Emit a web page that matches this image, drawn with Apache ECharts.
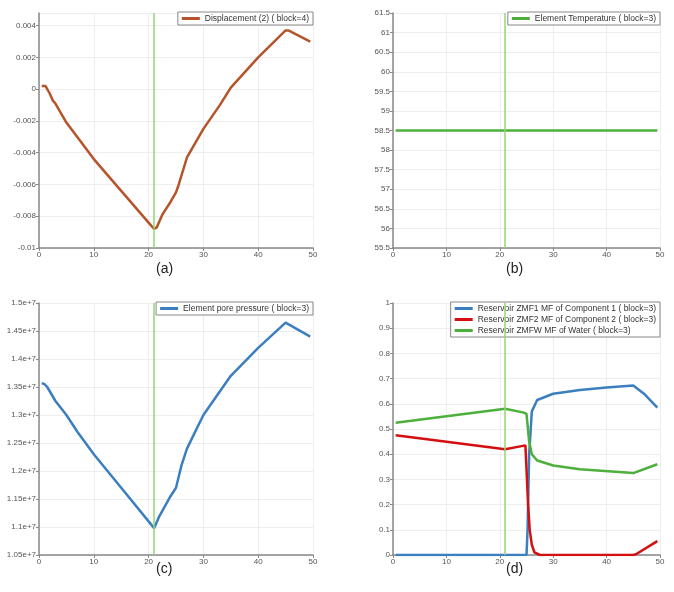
<!DOCTYPE html>
<html><head><meta charset="utf-8">
<script src="https://cdn.jsdelivr.net/npm/echarts@6/dist/echarts.min.js"></script>
<style>html,body{margin:0;padding:0;background:#fff}#c{width:674px;height:592px}</style>
</head><body><div id="c"></div>
<script>
const dispX=[0.5,1.2,1.5,2,2.5,3,5,10,15,20,21,21.5,22.5,24,25,25.5,27,30,33,35,40,45,45.5,49.5];
const dispY=[0.0002,0.0002,0.0001,-0.0003,-0.0007,-0.0009,-0.0021,-0.0044,-0.0064,-0.0084,-0.0088,-0.0087,-0.0079,-0.0071,-0.0065,-0.0060,-0.0043,-0.0025,-0.0010,0.0001,0.0020,0.0037,0.0037,0.0030];
const tempX=[0.5,49.5];
const tempY=[58.5,58.5];
const presX=[0.5,1,1.5,3,5,7,10,15,20,21,22,24,25,26,27,30,35,40,45,49.5];
const presY=[1.357e7,1.355e7,1.35e7,1.325e7,1.30e7,1.27e7,1.23e7,1.17e7,1.11e7,1.098e7,1.12e7,1.155e7,1.17e7,1.21e7,1.24e7,1.30e7,1.37e7,1.42e7,1.465e7,1.44e7];
const z1X=[0.5,25,25.2,25.5,26,27,30,35,40,45,47,49.5];
const z1Y=[0,0,0.1,0.4,0.57,0.615,0.64,0.655,0.665,0.673,0.64,0.585];
const z2X=[0.5,21,24.8,25,25.3,25.6,26,26.5,27.5,45,45.5,49.5];
const z2Y=[0.475,0.42,0.435,0.43,0.2,0.1,0.04,0.01,0,0,0.003,0.055];
const zwX=[0.5,21,24.5,25,25.5,26,27,30,35,45,49.5];
const zwY=[0.525,0.58,0.565,0.56,0.45,0.4,0.375,0.355,0.34,0.325,0.36];
const names=['Displacement (2) ( block=4)','Element Temperature ( block=3)','Element pore pressure ( block=3)','Reservoir ZMF1 MF of Component 1 ( block=3)','Reservoir ZMF2 MF of Component 2 ( block=3)','Reservoir ZMFW MF of Water ( block=3)'];
const panelLabels=['(a)','(b)','(c)','(d)'];
const zip=(a,b)=>a.map((v,i)=>[v,b[i]]);
const F='Liberation Sans, Arial, sans-serif';
const grids=[{left:39,top:13,width:274,height:235},{left:393,top:13,width:267,height:235},{left:39,top:303,width:274,height:252},{left:393,top:303,width:267,height:252}];
const yCfg=[{min:-0.01,max:0.0048,interval:0.002},{min:55.5,max:61.5,interval:0.5},{min:1.05e7,max:1.5e7,interval:5e5},{min:0,max:1,interval:0.1}];
const lab={color:'#555',fontSize:8,fontFamily:F};
const ax={onZero:false,lineStyle:{color:'#888',width:1.5}};
const xAxis=grids.map((g,i)=>({type:'value',gridIndex:i,min:0,max:50,interval:10,axisLine:ax,axisTick:{show:true,length:3,lineStyle:{color:'#888'}},axisLabel:Object.assign({margin:3},lab),splitLine:{lineStyle:{color:'#eee'}}}));
const fmt=[v=>Math.abs(v-Math.round(v/0.002)*0.002)>1e-9?'':(Math.abs(v)<1e-12?'0':String(+v.toFixed(3))),v=>String(v),v=>(v/1e7).toFixed(2).replace(/0$/,'')+'e+7',v=>String(+v.toFixed(1))];
const yAxis=yCfg.map((c,i)=>Object.assign({type:'value',gridIndex:i,axisLine:{show:true,onZero:false,lineStyle:ax.lineStyle},axisTick:{show:true,length:3,lineStyle:{color:'#888'}},axisLabel:Object.assign({margin:3,formatter:fmt[i],showMaxLabel:i!==0},lab),splitLine:{lineStyle:{color:'#eee'}}},c));
const vline={silent:true,symbol:'none',label:{show:false},lineStyle:{color:'#95d672',width:1.5,type:'solid'},data:[{xAxis:21}]};
function s(name,i,d,color,mark){return {name,type:'line',xAxisIndex:i,yAxisIndex:i,data:d,showSymbol:false,lineStyle:{color,width:2.5},itemStyle:{color},markLine:mark?vline:undefined,z:3};}
const series=[
 s(names[0],0,zip(dispX,dispY),'#b5542a',true),
 s(names[1],1,zip(tempX,tempY),'#4daf3c',true),
 s(names[2],2,zip(presX,presY),'#3b7fc0',true),
 s(names[3],3,zip(z1X,z1Y),'#3b7fc0',true),
 s(names[4],3,zip(z2X,z2Y),'#d40f0f',false),
 s(names[5],3,zip(zwX,zwY),'#4daf3c',false)];
const legBase={orient:'vertical',borderColor:'#888',borderWidth:1,borderRadius:0,padding:[2,4],itemGap:2,itemWidth:18,itemHeight:3,icon:'rect',textStyle:{fontSize:8.5,color:'#333',fontFamily:F},backgroundColor:'#fff'};
const legend=[
 Object.assign({data:[names[0]],right:674-313,top:12},legBase),
 Object.assign({data:[names[1]],right:674-660,top:12},legBase),
 Object.assign({data:[names[2]],right:674-313,top:302},legBase),
 Object.assign({data:[names[3],names[4],names[5]],right:674-660,top:302},legBase)];
const graphic=panelLabels.map((t,i)=>({type:'text',left:[166,516,166,516][i]-10,top:[262,262,562,562][i],style:{text:t,fontSize:14,fill:'#222',fontFamily:F}}));
const chart=echarts.init(document.getElementById('c'));
chart.setOption({animation:false,grid:grids,xAxis,yAxis,series,legend,graphic});
</script></body></html>
